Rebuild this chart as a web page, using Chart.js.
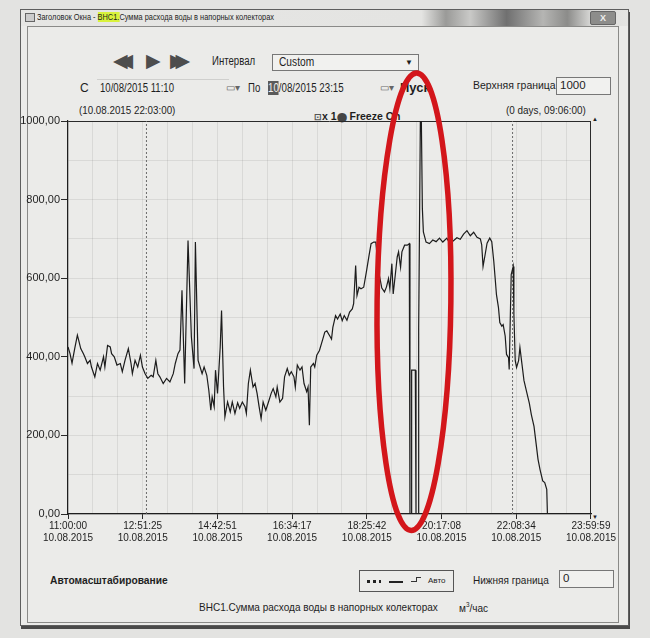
<!DOCTYPE html>
<html>
<head>
<meta charset="utf-8">
<script src="https://cdn.jsdelivr.net/npm/chart.js@4.4.0/dist/chart.umd.min.js"></script>
<style>
html,body{margin:0;padding:0;}
body{width:650px;height:638px;background:#e3e3e1;position:relative;overflow:hidden;font-family:"Liberation Sans",Arial,sans-serif;color:#1e1e1e;}
.a{position:absolute;white-space:nowrap;}
.n{transform-origin:left top;}
#win{left:20px;top:9px;width:607px;height:615px;border:1px solid #5e5e5e;background:#ebebe9;box-shadow:1px 3px 0 #4a4a4a;}
#bar{left:21px;top:10px;width:607px;height:16px;background:linear-gradient(to right,#e6e6e4 0%,#e4e4e2 66%,#9a9a98 70%,#c9c9c7 74%,#707070 80%,#b5b5b3 86%,#8c8c8a 90%,#dadad8 94%,#e4e4e2 100%);}
#inner{left:27px;top:26px;width:590px;height:595px;border:1px solid #8a8a88;}
#chart{position:absolute;left:0;top:0;z-index:5;pointer-events:none;}
.box{border:1px solid #777;background:#f1f1ef;}
.tri{color:#4d4d4d;font-family:"DejaVu Sans",sans-serif;font-size:19px;line-height:20px;}
</style>
</head>
<body>
<div class="a" id="win"></div>
<div class="a" id="bar"></div>
<div class="a" id="inner"></div>

<!-- title bar -->
<div class="a" style="left:25px;top:13px;width:8px;height:7px;border:1px solid #666;background:#ccc;"></div>
<div class="a n" style="left:37px;top:12px;font-size:8.5px;transform:scaleX(0.87);">Заголовок Окна - <span style="background:#d9f23c;">ВНС1.</span>Сумма расхода воды в напорных колекторах</div>
<div class="a" style="left:590px;top:11px;width:24px;height:12px;background:#8d8d8b;border:1px solid #666;border-radius:2px;color:#eee;font-size:9px;font-weight:bold;text-align:center;line-height:12px;">X</div>

<!-- row 1 -->
<div class="a tri" style="left:113px;top:50px;letter-spacing:-9px;">◀◀</div>
<div class="a tri" style="left:146px;top:50px;">▶</div>
<div class="a tri" style="left:170px;top:50px;letter-spacing:-9px;">▶▶</div>
<div class="a n" style="left:212px;top:54px;font-size:12px;transform:scaleX(0.8);">Интервал</div>
<div class="a box" style="left:272px;top:54px;width:145px;height:15px;font-size:12px;line-height:15px;"><span class="a n" style="left:6px;top:0;transform:scaleX(0.85);">Custom</span><span style="position:absolute;right:5px;top:0;font-size:8px;">▼</span></div>

<!-- row 2 -->
<div class="a" style="left:80px;top:81px;font-size:12px;">С</div>
<div class="a" style="left:97px;top:79px;width:132px;height:16px;border-top:1px solid #cfcfcd;"></div>
<div class="a n" style="left:100px;top:81px;font-size:12px;transform:scaleX(0.8);">10/08/2015 11:10</div>
<div class="a" style="left:226px;top:82px;font-size:10px;color:#666;">▭▾</div>
<div class="a n" style="left:248px;top:81px;font-size:12px;transform:scaleX(0.8);">По</div>
<div class="a n" style="left:268px;top:81px;font-size:12px;transform:scaleX(0.81);"><span style="background:#5a5a5a;color:#f0f0f0;">10</span>/08/2015 23:15</div>
<div class="a" style="left:380px;top:82px;font-size:10px;color:#666;">▭▾</div>
<div class="a" style="left:400px;top:80px;font-size:13px;font-weight:bold;">Пуск</div>
<div class="a n" style="left:473px;top:79px;font-size:11.5px;transform:scaleX(0.91);">Верхняя граница</div>
<div class="a box" style="left:556px;top:77px;width:53px;height:16px;font-size:11.5px;line-height:15px;"><span style="margin-left:3px;">1000</span></div>

<!-- labels above plot -->
<div class="a n" style="left:79px;top:104px;font-size:11px;transform:scaleX(0.89);">(10.08.2015 22:03:00)</div>
<div class="a" style="left:314px;top:110px;font-size:10.5px;font-weight:bold;"><span style="font-size:9px;color:#555;">⊡</span>x 1<span style="font-size:9px;color:#444;">⬤</span> Freeze On</div>
<div class="a n" style="left:506px;top:104px;font-size:11px;transform:scaleX(0.9);">(0 days, 09:06:00)</div>
<div class="a" style="left:592px;top:116px;font-size:6px;">▲</div>
<div class="a" style="left:592px;top:514px;font-size:6px;">▼</div>

<!-- bottom -->
<div class="a n" style="left:50px;top:574px;font-size:11px;font-weight:bold;transform:scaleX(0.93);">Автомасштабирование</div>
<div class="a" style="left:359px;top:570px;width:93px;height:20px;border:1px solid #555;">
  <div class="a" style="left:7px;top:9px;width:3px;height:3px;background:#222;"></div>
  <div class="a" style="left:13px;top:9px;width:3px;height:3px;background:#222;"></div>
  <div class="a" style="left:19px;top:9px;width:2px;height:3px;background:#222;"></div>
  <div class="a" style="left:29px;top:10px;width:14px;height:2px;background:#222;"></div>
  <div class="a" style="left:51px;top:6px;width:5px;height:4px;border-bottom:1px solid #333;border-right:1px solid #333;"></div>
  <div class="a" style="left:56px;top:6px;width:5px;height:4px;border-top:1px solid #333;"></div>
  <div class="a" style="left:68px;top:5px;font-size:8px;">Авто</div>
</div>
<div class="a n" style="left:473px;top:574px;font-size:11.5px;transform:scaleX(0.87);">Нижняя граница</div>
<div class="a box" style="left:559px;top:570px;width:53px;height:16px;font-size:11.5px;line-height:15px;"><span style="margin-left:3px;">0</span></div>
<div class="a n" style="left:199px;top:601px;font-size:11px;transform:scaleX(0.91);">ВНС1.Сумма расхода воды в напорных колекторах</div>
<div class="a n" style="left:459px;top:601px;font-size:11px;transform:scaleX(0.91);">м<sup style="font-size:7px;">3</sup>/час</div>

<canvas id="chart" width="650" height="638"></canvas>

<script>
// minutes after 11:00:00 on 10.08.2015
const minutes = [
  0, 3, 6, 10, 14, 16, 19, 23, 25, 29, 33, 35, 40, 44, 48, 53, 55, 59, 63, 65,
  69, 73, 78, 81, 85, 90, 94, 96, 100, 104, 108, 111, 115, 119, 124, 127, 131, 134, 137, 142,
  147, 152, 157, 160, 164, 167, 170, 174, 179, 184, 188, 190, 194, 197, 200, 203, 207, 210, 213, 215,
  218, 220, 223, 227, 229, 232, 234, 238, 242, 245, 249, 253, 256, 260, 264, 266, 269, 272, 276, 279,
  282, 285, 288, 291, 295, 299, 303, 306, 310, 312, 316, 320, 323, 327, 330, 333, 337, 339, 342, 346,
  349, 352, 356, 358, 360, 362, 366, 368, 371, 375, 380, 383, 386, 390, 393, 395, 399, 402, 406, 409,
  412, 416, 420, 424, 426, 429, 431, 434, 437, 441, 445, 449, 452, 456, 459, 463, 468, 472, 475, 478,
  480, 483, 485, 488, 491, 493, 496, 498, 502, 506, 509, 510, 512, 512.5, 518, 519, 522.5, 523, 525.5, 527,
  528.5, 530, 534, 539, 544, 549, 554, 559, 565, 569, 574, 580, 585, 590, 595, 600, 605, 610, 615, 617,
  619, 622, 625, 629, 632, 635, 637, 639, 642, 644, 647, 649, 652, 654, 657, 658, 661, 664, 665, 667,
  669, 672, 674, 677, 680, 684, 688, 691, 695, 698, 701, 704, 708, 711, 714, 715
];
// м3/час
const flow = [
  425, 408, 384, 421, 455, 442, 421, 408, 400, 383, 391, 374, 349, 383, 366, 400, 374, 429, 425, 408,
  400, 379, 383, 362, 391, 421, 383, 357, 391, 374, 404, 374, 357, 345, 353, 349, 391, 357, 349, 332,
  345, 336, 357, 383, 408, 417, 569, 332, 696, 451, 370, 692, 391, 374, 357, 374, 353, 315, 264, 298,
  273, 366, 307, 425, 518, 323, 247, 285, 260, 285, 256, 283, 269, 285, 273, 256, 332, 366, 323, 332,
  307, 273, 243, 285, 264, 285, 307, 319, 298, 323, 285, 294, 349, 370, 353, 362, 349, 323, 379, 366,
  374, 332, 311, 323, 226, 374, 383, 374, 404, 416, 445, 463, 466, 454, 445, 475, 505, 496, 509, 492,
  505, 493, 514, 522, 535, 632, 556, 577, 573, 577, 616, 658, 688, 692, 692, 620, 575, 565, 578, 599,
  573, 637, 560, 607, 654, 667, 628, 667, 684, 684, 688, 0, 0, 366, 366, 0, 0, 472, 1000, 1000,
  777, 718, 692, 688, 697, 693, 702, 692, 702, 690, 694, 703, 699, 712, 721, 708, 717, 704, 700, 685,
  630, 659, 689, 702, 693, 643, 601, 558, 525, 487, 478, 482, 453, 406, 398, 368, 609, 630, 508, 390,
  373, 390, 424, 382, 340, 311, 282, 253, 223, 181, 139, 113, 84, 80, 63, 0
];

const timeLabels = ['11:00:00', '12:51:25', '14:42:51', '16:34:17', '18:25:42', '20:17:08', '22:08:34', '23:59:59'];
const dateLabel = '10.08.2015';
const labelMinutes = [0, 111.42, 222.85, 334.28, 445.7, 557.13, 668.57, 779.98];
const cursorMinutes = [117, 663]; // 12:57:00 and 22:03:00
const yMin = 0, yMax = 1000;

// faint grid every third of a labelled step
const gridMinutes = [];
labelMinutes.forEach((m, i) => {
  gridMinutes.push(m);
  if (i < labelMinutes.length - 1) {
    const step = (labelMinutes[i + 1] - m) / 3;
    gridMinutes.push(m + step, m + 2 * step);
  }
});

// red hand-drawn mark around the dropout (centre in minutes / m3, radii in same units)
const redMark = { t: 516, v: 540, rt: 55, rv: 582 };

Chart.defaults.font.family = '"Liberation Sans", Arial, sans-serif';
Chart.defaults.color = '#1e1e1e';

const faint = 'rgba(0,0,0,0.075)';

const ctx = document.getElementById('chart');
new Chart(ctx, {
  type: 'line',
  data: {
    datasets: [
      {
        data: minutes.map((m, i) => ({ x: m, y: flow[i] })),
        borderColor: '#1c1c1c',
        borderWidth: 1.2,
        pointRadius: 0,
        tension: 0
      },
      ...cursorMinutes.map(m => ({
        data: [{ x: m, y: yMin }, { x: m, y: yMax }],
        borderColor: '#6a6a6a',
        borderWidth: 1,
        borderDash: [2, 2],
        pointRadius: 0
      }))
    ]
  },
  options: {
    responsive: false,
    animation: false,
    events: [],
    layout: { padding: { left: 0, top: 121, right: 59, bottom: 84 } },
    plugins: { legend: { display: false }, tooltip: { enabled: false } },
    scales: {
      x: {
        type: 'linear',
        min: 0,
        max: 780,
        afterBuildTicks: s => { s.ticks = gridMinutes.map(v => ({ value: v })); },
        afterFit: s => { s.height = 40; },
        ticks: {
          autoSkip: false,
          maxRotation: 0,
          padding: 1,
          font: { size: 10 },
          callback: (v, i) => (i % 3 === 0 ? [timeLabels[i / 3], dateLabel] : '')
        },
        grid: {
          color: c => (c.tick && c.tick.value > 779 ? '#2a2a2a' : faint),
          tickColor: c => (c.index % 3 === 0 ? '#2a2a2a' : 'rgba(0,0,0,0)'),
          tickLength: 5
        },
        border: { color: '#1e1e1e', width: 1.2 }
      },
      y: {
        min: yMin,
        max: yMax,
        afterFit: s => { s.width = 68; },
        ticks: {
          stepSize: 100,
          padding: 1,
          font: { size: 11 },
          callback: v => (v % 200 === 0 ? v.toFixed(2).replace('.', ',') : '')
        },
        grid: {
          color: c => (c.tick && c.tick.value === yMax ? '#2a2a2a' : faint),
          tickColor: c => (c.tick && c.tick.value % 200 === 0 ? '#2a2a2a' : 'rgba(0,0,0,0)'),
          tickLength: 7
        },
        border: { color: '#1e1e1e', width: 1.2 }
      }
    }
  },
  plugins: [{
    id: 'redMark',
    afterDraw(chart) {
      const { ctx, scales: { x, y } } = chart;
      const cx = x.getPixelForValue(redMark.t);
      const cy = y.getPixelForValue(redMark.v);
      const rx = x.getPixelForValue(redMark.t + redMark.rt) - cx;
      const ry = cy - y.getPixelForValue(redMark.v + redMark.rv);
      ctx.save();
      ctx.strokeStyle = '#d3161b';
      ctx.lineWidth = 5.5;
      ctx.beginPath();
      ctx.ellipse(cx, cy, rx, ry, 0.012, 0, Math.PI * 2);
      ctx.stroke();
      ctx.restore();
    }
  }]
});
</script>
</body>
</html>
